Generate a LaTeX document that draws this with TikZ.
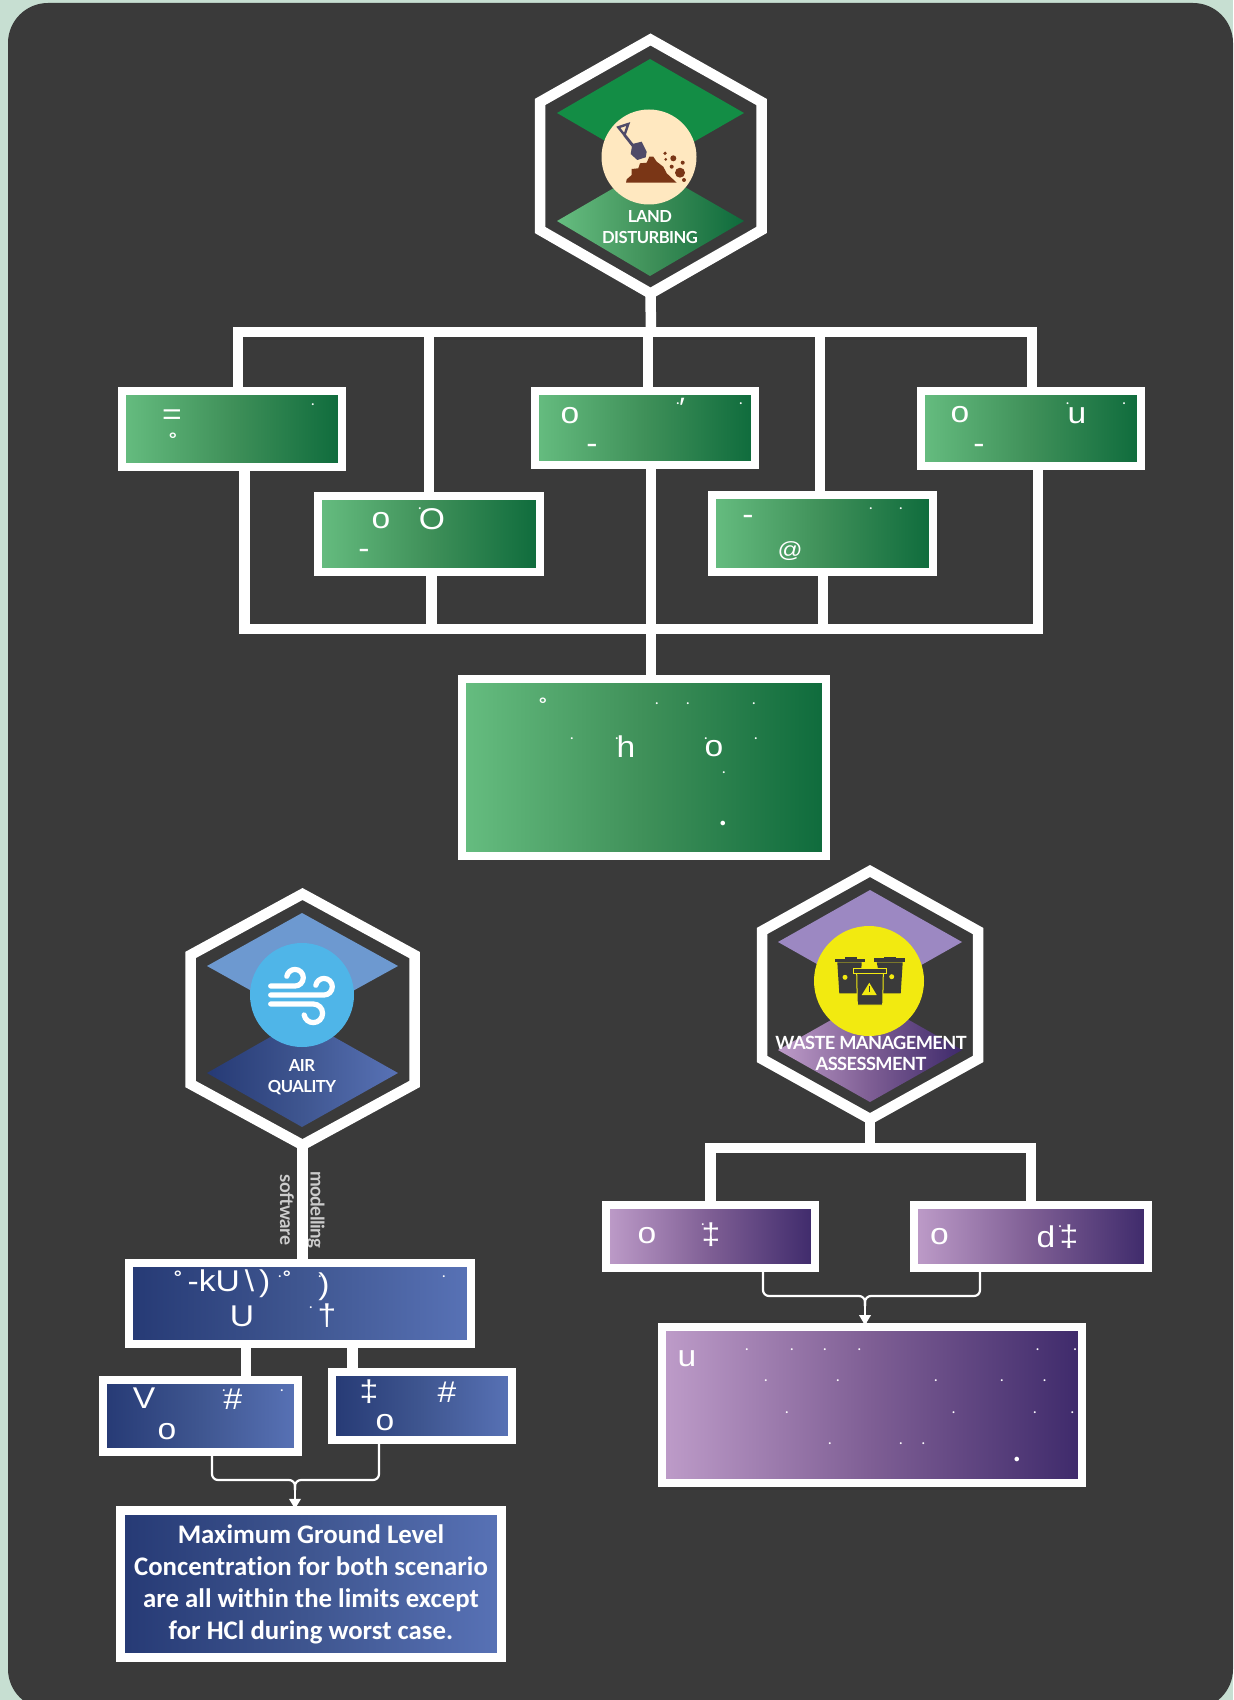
\documentclass[tikz,border=0pt]{standalone}
\usepackage{fontspec}
\usetikzlibrary{arrows.meta}
\newfontfamily\glyphfont[FakeStretch=1.12]{Liberation Sans}
\newfontfamily\bodyfont[Ligatures=NoCommon]{Carlito}
\newfontfamily\headfont[LetterSpace=-3]{Lato}
\definecolor{mint}{HTML}{C7DFD2}
\definecolor{panel}{HTML}{3A3A3A}
\definecolor{greenl}{HTML}{66BD80}
\definecolor{greenm}{HTML}{3F9059}
\definecolor{greenr}{HTML}{0E6B3C}
\definecolor{greentop}{HTML}{138D45}
\definecolor{bluel}{HTML}{263A75}
\definecolor{bluem}{HTML}{3F5690}
\definecolor{bluer}{HTML}{5872B6}
\definecolor{bluetop}{HTML}{6D99D0}
\definecolor{purplel}{HTML}{BE9CC9}
\definecolor{purplem}{HTML}{7E5E94}
\definecolor{purpler}{HTML}{3E2A6B}
\definecolor{purpletop}{HTML}{9C88C2}
\definecolor{cream}{HTML}{FFE8C0}
\definecolor{sky}{HTML}{4FB5E8}
\definecolor{bins}{HTML}{F2EA10}
\definecolor{dirt}{HTML}{7A3616}
\definecolor{spade}{HTML}{4F4A68}
\pgfdeclarehorizontalshading{greenfade}{100bp}{color(0bp)=(greenl); color(25bp)=(greenl); color(50bp)=(greenm); color(75bp)=(greenr); color(100bp)=(greenr)}
\pgfdeclarehorizontalshading{bluefade}{100bp}{color(0bp)=(bluel); color(25bp)=(bluel); color(50bp)=(bluem); color(75bp)=(bluer); color(100bp)=(bluer)}
\pgfdeclarehorizontalshading{purplefade}{100bp}{color(0bp)=(purplel); color(25bp)=(purplel); color(50bp)=(purplem); color(75bp)=(purpler); color(100bp)=(purpler)}
\tikzset{
  hexline/.style={draw=white, line width=5.25pt, line join=miter},
  stem/.style={draw=white, line width=5.25pt},
  thinlink/.style={draw=white, line width=1.1pt, rounded corners=3pt},
  linktip/.style={-{Latex[length=6pt,width=6.5pt]}},
  framebox/.style={rectangle, draw=white, line width=4pt, inner sep=0pt, outer sep=0pt},
  greenbox/.style={framebox, shade, shading=greenfade},
  bluebox/.style={framebox, shade, shading=bluefade},
  purplebox/.style={framebox, shade, shading=purplefade},
  glyph/.style={text=white, inner sep=0pt, font=\glyphfont\fontsize{15}{15}\selectfont},
  speck/.style={text=white, inner sep=0pt, font=\bodyfont\fontsize{8}{8}\selectfont},
  bigspeck/.style={text=white, inner sep=0pt, font=\bodyfont\fontsize{19}{19}\selectfont},
  ring/.style={text=white, inner sep=0pt, font=\glyphfont\bfseries\fontsize{9}{9}\selectfont},
  hexlabel/.style={text=white, inner sep=0pt, align=center, font=\headfont\bfseries\fontsize{8.3}{10.3}\selectfont},
  sidelabel/.style={text=black!20, inner sep=0pt, rotate=-90, font=\headfont\bfseries\fontsize{9.4}{10}\selectfont},
}
\begin{document}
\begin{tikzpicture}[x=0.5pt, y=-0.5pt, yscale=1, xscale=1]
\useasboundingbox (0, 0) rectangle (1233, 1700);
\fill [mint] (0, 0) rectangle (1233, 1700);
\fill [panel, rounded corners=20pt] (8, 3) rectangle (1233, 1709);
%Land disturbing
\fill [greentop] (557, 113) -- (650, 59) -- (744, 113) -- (650, 167) -- cycle;
\shade [shading=greenfade] (557, 221) -- (650, 167) -- (744, 221) -- (650, 276) -- cycle;
\coordinate (hexland) at (650.5, 293.5);
\draw [hexline] (650.5, 39.5) -- (761.5, 102) -- (761.5, 230) -- (hexland) -- (540, 230) -- (540, 102) -- cycle;
\fill [cream] (649, 157) circle (47.5);
\draw [spade, line width=1.2pt] (618.3, 127.3) -- (628.3, 124) -- (624.5, 135) -- cycle;
\draw [spade, line width=1.4pt] (624.5, 135) -- (635, 148.3);
\fill [spade] (632.3, 144) -- (641.7, 141.7) -- (646.7, 151.7) -- (645.7, 157.3) -- (637.3, 160) -- (630.7, 154) -- cycle;
\fill [dirt] (626, 182.7) -- (626.7, 179.3) -- (631.7, 175) -- (631.7, 169) -- (638.3, 168.3) -- (640, 163.3) -- (646.7, 162.7) -- (649.3, 156.7) -- (653.3, 156.7) -- (656.7, 161.7) -- (663.3, 166.7) -- (666.7, 173.3) -- (676.7, 182.7) -- cycle;
\foreach \x/\y/\r in {680/172.7/5, 673.3/158.3/3, 665/153.3/1.8, 665.7/159.3/1.5, 682.7/162.7/2, 671.7/166.7/2, 684/180/2}
  \fill [dirt] (\x, \y) circle (\r);
\draw (650, 227) node (textland) [hexlabel] {LAND\\DISTURBING};
\draw (232, 429) node (boxa) [greenbox, minimum width=110pt, minimum height=38pt] {};
\draw (429, 534) node (boxb) [greenbox, minimum width=111pt, minimum height=38pt] {};
\draw (645, 428) node (boxc) [greenbox, minimum width=110pt, minimum height=37pt] {};
\draw (822.5, 533.5) node (boxd) [greenbox, minimum width=110.5pt, minimum height=38.5pt] {};
\draw (1031, 428.5) node (boxe) [greenbox, minimum width=110pt, minimum height=37.5pt] {};
\draw (644, 767.5) node (boxf) [greenbox, minimum width=182pt, minimum height=88.5pt] {};
\draw [stem] (hexland) -- (651, 332);
\draw [stem, line cap=rect] (238, 332) -- (1032, 332);
\draw [stem, line cap=rect] (244.5, 629) -- (1038, 629);
\foreach \n/\x in {boxa/238, boxb/429, boxc/648, boxd/820, boxe/1032}
  \draw [stem] (\x, 332) -- (\x, 332 |- \n.north);
\foreach \n/\x in {boxa/244.5, boxb/431.5, boxc/651, boxd/823, boxe/1038}
  \draw [stem] (\x, 629) -- (\x, 629 |- \n.south);
\draw [stem] (651, 629) -- (651, 629 |- boxf.north);
%Air quality
\fill [bluetop] (207, 966) -- (302, 913) -- (398, 966) -- (302, 1019) -- cycle;
\shade [shading=bluefade] (207, 1073) -- (302, 1019) -- (398, 1073) -- (302, 1127) -- cycle;
\coordinate (hexair) at (302.5, 1145);
\draw [hexline] (302.5, 894) -- (414.5, 955) -- (414.5, 1084) -- (hexair) -- (190.5, 1084) -- (190.5, 955) -- cycle;
\fill [sky] (302, 995) circle (52);
\draw [white, line width=2.6pt, line cap=round] (270.7, 986) -- (295, 986) arc(90:-170:8.3);
\draw [white, line width=2.6pt, line cap=round] (270.7, 995) -- (324, 995) arc(90:-170:8.3);
\draw [white, line width=2.6pt, line cap=round] (270.7, 1004) -- (313.3, 1004) arc(-90:170:9.3);
\draw (302, 1077) node (textair) [hexlabel] {AIR\\QUALITY};
\draw (287, 1210) node (textsoft) [sidelabel] {software};
\draw (316, 1210) node (textmodel) [sidelabel] {modelling};
\draw (300, 1303.5) node (boxair) [bluebox, minimum width=171pt, minimum height=40.5pt] {};
\draw (200.5, 1416) node (boxairl) [bluebox, minimum width=97.5pt, minimum height=36pt] {};
\draw (422, 1406) node (boxairr) [bluebox, minimum width=90pt, minimum height=34pt] {};
\draw (311, 1584) node (boxairres) [bluebox, line width=4.5pt, minimum width=190.5pt, minimum height=73.25pt, text=white, align=center, font=\bodyfont\bfseries\fontsize{13.4}{16}\selectfont] {Maximum Ground Level\\Concentration for both scenario\\are all within the limits except\\for HCl during worst case.};
\draw [stem] (hexair) -- (boxair.north -| hexair);
\coordinate (airstuba) at (246, 1360);
\coordinate (airstubb) at (352.5, 1360);
\draw [stem] (boxair.south -| airstuba) -- (boxairl.north -| airstuba);
\draw [stem] (boxair.south -| airstubb) -- (boxairr.north -| airstubb);
\coordinate (airjoin) at (295, 1480);
\coordinate (airlinka) at (212, 1456);
\coordinate (airlinkb) at (379, 1444);
\draw [thinlink] (airlinka) |- (airjoin) -- ([yshift=-5pt]airjoin);
\draw [thinlink] (airlinkb) |- (airjoin) -- ([yshift=-5pt]airjoin);
\draw [thinlink, linktip] ([yshift=-3pt]airjoin) -- (airjoin |- boxairres.north);
%Waste management
\fill [purpletop] (778, 942) -- (870, 890) -- (962, 942) -- (870, 994) -- cycle;
\shade [shading=purplefade] (778, 1050) -- (870, 998) -- (962, 1050) -- (870, 1102) -- cycle;
\coordinate (hexwaste) at (870, 1119);
\draw [hexline] (870, 871) -- (978, 931) -- (978, 1059) -- (hexwaste) -- (762, 1059) -- (762, 931) -- cycle;
\fill [bins] (869, 981) circle (55);
\fill [panel] (837.3, 962.3) -- (861.7, 962.3) -- (860, 993.3) -- (839.3, 993.3) -- cycle;
\fill [panel] (835, 958.7) rectangle (865, 962.3);
\fill [panel] (845, 956.7) rectangle (857.3, 958.7);
\fill [panel] (876.7, 962.3) -- (902.7, 962.3) -- (900.7, 993.3) -- (883, 993.3) -- cycle;
\fill [panel] (874, 958.3) rectangle (905, 962.3);
\fill [panel] (884, 956.7) rectangle (896, 958.7);
\fill [bins] (845, 977.3) circle (2.5);
\fill [bins] (891.7, 976.7) circle (2.5);
\draw [bins, fill=panel, line width=0.5pt] (856.7, 973.3) -- (883.3, 973.3) -- (882.7, 1005) -- (857.3, 1005) -- cycle;
\draw [bins, fill=panel, line width=0.5pt] (853.3, 968.3) rectangle (886.7, 973.3);
\fill [bins] (861.7, 995) -- (876.7, 995) -- (869.3, 982.7) -- cycle;
\draw [panel, line width=0.7pt] (869.3, 986) -- (869.3, 992);
\draw (871, 1053.5) node (textwaste) [hexlabel, font=\headfont\bfseries\fontsize{9.1}{10.5}\selectfont] {WASTE MANAGEMENT\\ASSESSMENT};
\draw (710.5, 1236.5) node (boxwastel) [purplebox, minimum width=104.5pt, minimum height=31.5pt] {};
\draw (1031, 1236.5) node (boxwaster) [purplebox, minimum width=116.75pt, minimum height=31.5pt] {};
\draw (872, 1405) node (boxwasteres) [purplebox, minimum width=210pt, minimum height=78pt] {};
\coordinate (wastebar) at (870, 1148);
\draw [stem] (hexwaste) -- (wastebar);
\draw [stem] (boxwastel.north) |- (wastebar);
\draw [stem] (boxwaster.north) |- (wastebar);
\coordinate (wastejoin) at (865, 1296);
\coordinate (wastelinka) at (763, 1272);
\coordinate (wastelinkb) at (980, 1272);
\draw [thinlink] (wastelinka) |- (wastejoin) -- ([yshift=-5pt]wastejoin);
\draw [thinlink] (wastelinkb) |- (wastejoin) -- ([yshift=-5pt]wastejoin);
\draw [thinlink, linktip] ([yshift=-3pt]wastejoin) -- (wastejoin |- boxwasteres.north);
%Text
\draw (172, 417) node (ga) [glyph] {=};
\draw (173, 439) node (gb) [ring] {°};
\draw (381, 521) node (gc) [glyph] {o};
\draw (432, 519) node (gd) [glyph] {O};
\draw (364, 554) node (ge) [glyph] {-};
\draw (570, 416) node (gf) [glyph] {o};
\draw (592, 449) node (gg) [glyph] {-};
\draw (682, 408) node (gh) [speck, font=\glyphfont\fontsize{14}{14}\selectfont] {′};
\draw (748, 520) node (gi) [glyph] {-};
\draw (790, 551) node (gj) [glyph, font=\glyphfont\fontsize{11}{11}\selectfont] {@};
\draw (960, 415) node (gk) [glyph] {o};
\draw (1077, 416) node (gl) [glyph] {u};
\draw (979, 449) node (gm) [glyph] {-};
\draw (543, 704) node (gn) [ring] {°};
\draw (626, 747) node (go) [glyph] {h};
\draw (714, 749) node (gp) [glyph] {o};
\draw (178, 1277) node (gq) [ring] {°};
\draw (229, 1284) node (gr) [glyph] {-kU\,\textbackslash\,)};
\draw (287, 1277) node (gs) [ring] {°};
\draw (324, 1287) node (gt) [glyph] {)};
\draw (242, 1316) node (gu) [glyph] {U};
\draw (327, 1316) node (gv) [glyph] {†};
\draw (144, 1398) node (gw) [glyph] {V};
\draw (233, 1399) node (gx) [glyph] {\#};
\draw (167, 1432) node (gy) [glyph] {o};
\draw (369, 1392) node (gz) [glyph] {‡};
\draw (447, 1392) node (gaa) [glyph] {\#};
\draw (385, 1423) node (gab) [glyph] {o};
\draw (647, 1236) node (gac) [glyph] {o};
\draw (711, 1235) node (gad) [glyph] {‡};
\draw (939.5, 1237) node (gae) [glyph] {o};
\draw (1046, 1237) node (gaf) [glyph] {d};
\draw (1069, 1237) node (gag) [glyph] {‡};
\draw (687, 1359) node (gah) [glyph] {u};
\foreach \x/\y [count=\i] in {313/405, 420/509, 678/404, 741/404, 871/509, 901/509, 1067.5/404, 1124/404, 657/704, 688/704, 754/704, 572/739, 617/739, 706/739, 756/739, 724/773, 320/1277, 444/1277, 280/1277, 311/1308, 224/1391, 282/1391, 703/1225, 1060/1227, 747/1350, 792/1350, 825/1350, 859.5/1350, 1037.6/1350, 1075/1350, 766/1381, 838/1381, 936/1381, 1002/1381, 1044.5/1381, 787/1413, 953.6/1413, 1035/1413, 1072.5/1413, 830/1444, 901/1444, 923.5/1444}
  \draw (\x, \y) node (sp\i) [speck] {.};
\draw (723, 823) node (dota) [bigspeck] {.};
\draw (1017, 1459) node (dotb) [bigspeck] {.};
\end{tikzpicture}
\end{document}
